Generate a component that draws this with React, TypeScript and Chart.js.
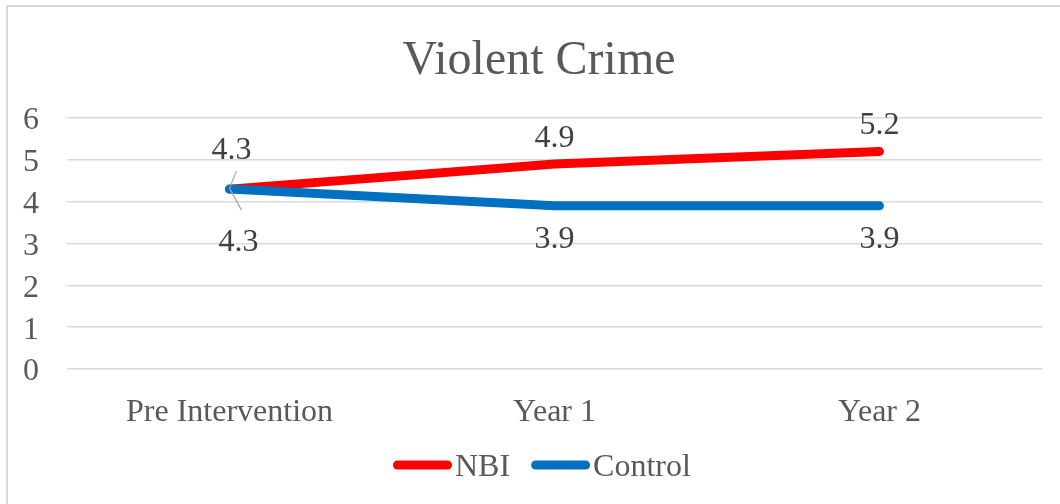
import { useEffect, useRef } from "react";
import { Chart, registerables } from "chart.js";

Chart.register(...registerables);

const title = "Violent Crime";
const categories = ["Pre Intervention", "Year 1", "Year 2"];
const nbiValues = [4.3, 4.9, 5.2];
const controlValues = [4.3, 3.9, 3.9];
const seriesNames = ["NBI", "Control"];
const seriesColors = ["#FF0000", "#0070C0"];
const yMin = 0;
const yMax = 6;
const yStep = 1;

const FONT = '"Liberation Serif", "Times New Roman", serif';
const TEXT = "#595959";
const LABEL = "#404040";

const decorPlugin = {
  id: "decor",
  beforeDraw(chart: any) {
    const ctx = chart.ctx as CanvasRenderingContext2D;
    ctx.save();
    ctx.fillStyle = "#ffffff";
    ctx.fillRect(0, 0, chart.width, chart.height);
    ctx.strokeStyle = "#d9d9d9";
    ctx.lineWidth = 2;
    ctx.strokeRect(7, 6, chart.width + 50, chart.height + 50);
    ctx.fillStyle = TEXT;
    ctx.font = `48px ${FONT}`;
    ctx.textAlign = "center";
    ctx.textBaseline = "alphabetic";
    ctx.fillText(title, 539, 74);
    ctx.font = `32px ${FONT}`;
    ctx.textAlign = "left";
    ctx.textBaseline = "alphabetic";
    let x = 393;
    const ly = 465;
    seriesNames.forEach((name, i) => {
      ctx.strokeStyle = seriesColors[i];
      ctx.lineWidth = 9;
      ctx.lineCap = "round";
      ctx.beginPath();
      ctx.moveTo(x + 4.5, ly);
      ctx.lineTo(x + 54.5, ly);
      ctx.stroke();
      ctx.fillStyle = TEXT;
      ctx.fillText(name, x + 62, ly + 11);
      x += 62 + ctx.measureText(name).width + 21;
    });
    ctx.restore();
  },
  afterDatasetsDraw(chart: any) {
    const ctx = chart.ctx as CanvasRenderingContext2D;
    ctx.save();
    ctx.font = `32px ${FONT}`;
    ctx.textAlign = "center";
    ctx.textBaseline = "alphabetic";
    const half = 11;
    const nbiMeta = chart.getDatasetMeta(0);
    const ctlMeta = chart.getDatasetMeta(1);
    categories.forEach((_, j) => {
      const pN = nbiMeta.data[j];
      const pC = ctlMeta.data[j];
      const same = nbiValues[j] === controlValues[j];
      if (same) {
        const topY = pN.y - 41;
        const botY = pC.y + 51;
        ctx.strokeStyle = "#a6a6a6";
        ctx.lineWidth = 1.2;
        ctx.lineCap = "butt";
        ctx.beginPath();
        ctx.moveTo(pN.x + 7, topY + 23);
        ctx.lineTo(pN.x, pN.y - 1);
        ctx.lineTo(pC.x + 12, botY - 30);
        ctx.stroke();
        ctx.fillStyle = LABEL;
        ctx.fillText(String(nbiValues[j]), pN.x + 2, topY + half);
        ctx.fillText(String(controlValues[j]), pC.x + 9, botY + half);
      } else {
        ctx.fillStyle = LABEL;
        ctx.fillText(String(nbiValues[j]), pN.x, pN.y - 28 + half);
        ctx.fillText(String(controlValues[j]), pC.x, pC.y + 31 + half);
      }
    });
    ctx.restore();
  },
};

export default function App() {
  const ref = useRef<HTMLCanvasElement | null>(null);
  useEffect(() => {
    if (!ref.current) return;
    const chart = new Chart(ref.current, {
      type: "line",
      data: {
        labels: categories,
        datasets: [
          {
            label: seriesNames[0],
            data: nbiValues,
            borderColor: seriesColors[0],
            backgroundColor: seriesColors[0],
            borderWidth: 9,
            borderCapStyle: "round",
            borderJoinStyle: "round",
            pointRadius: 0,
            tension: 0,
            order: 1,
          },
          {
            label: seriesNames[1],
            data: controlValues,
            borderColor: seriesColors[1],
            backgroundColor: seriesColors[1],
            borderWidth: 9,
            borderCapStyle: "round",
            borderJoinStyle: "round",
            pointRadius: 0,
            tension: 0,
            order: 0,
          },
        ],
      },
      options: {
        animation: false,
        responsive: false,
        devicePixelRatio: 1,
        events: [],
        layout: { padding: { left: 0, right: 18, top: 118, bottom: 75 } },
        plugins: {
          legend: { display: false },
          title: { display: false },
          tooltip: { enabled: false },
        },
        scales: {
          x: {
            offset: true,
            grid: { display: false },
            border: { display: false },
            ticks: {
              color: TEXT,
              font: { family: FONT, size: 32 },
              padding: 16,
              maxRotation: 0,
            },
            afterFit(scale: any) {
              scale.height = 60;
            },
          },
          y: {
            min: yMin,
            max: yMax,
            grid: { color: "#d9d9d9", lineWidth: 1.5, drawTicks: false },
            border: { display: false },
            ticks: {
              stepSize: yStep,
              color: TEXT,
              font: { family: FONT, size: 32 },
              padding: 28,
              labelOffset: 3,
            },
            afterFit(scale: any) {
              scale.width = 67;
            },
          },
        },
      },
      plugins: [decorPlugin],
    } as any);
    return () => chart.destroy();
  }, []);
  return (
    <canvas
      ref={ref}
      width={1060}
      height={504}
      style={{ position: "fixed", left: 0, top: 0, width: 1060, height: 504 }}
    />
  );
}
